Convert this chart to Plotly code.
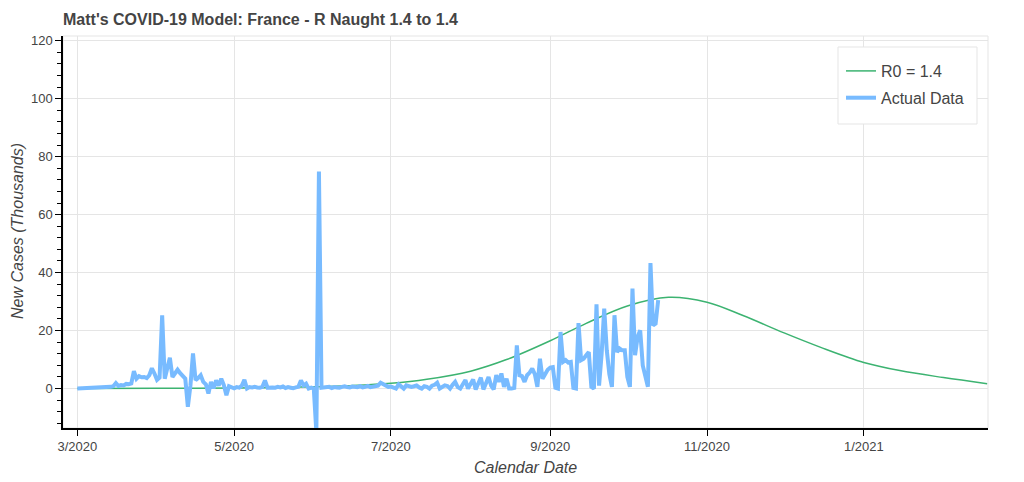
import pandas as pd
import plotly.graph_objects as go

# ---------------- data ----------------
actual_start = "2020-03-01"
actual_values = [
    0.0, 0.03, 0.05, 0.0, 0.1, 0.1, 0.3, 0.2, 0.1, 0.3,
    0.4, 0.2, 0.5, 0.6, 0.8, 1.9, 0.9, 1.2, 1.1, 1.6,
    1.5, 1.8, 6.0, 3.4, 4.3, 3.9, 4.0, 3.6, 4.6, 7.0,
    5.2, 3.0, 3.8, 25.3, 3.4, 7.5, 10.6, 4.0, 5.0, 6.5,
    5.3, 4.2, 3.4, -6.3, 1.0, 12.1, 2.9, 3.6, 4.6, 2.3,
    1.5, -1.7, 2.3, 0.1, 2.8, 1.0, 3.4, 1.2, -2.3, 0.8,
    0.4, 0.1, 0.5, 0.3, 1.0, 3.0, 0.0, 0.5, 0.4, 0.6,
    0.4, 0.3, 0.6, 2.8, 0.3, 0.5, 0.4, 0.3, 0.6, 0.4,
    0.7, 0.2, 0.5, 0.3, 0.1, 0.4, 0.6, 2.8, 1.1, 1.7,
    0.0, 0.3, 0.0, -15.0, 74.9, 0.3, 0.3, 0.4, 0.6, 0.2,
    0.5, 0.4, 0.3, 0.6, 0.8, 0.5, 0.4, 0.7, 0.6, 0.5,
    0.8, 0.4, 0.6, 0.9, 0.5, 0.7, 0.6, 1.0, 2.0, 1.5,
    0.8, 0.6, 0.7, 0.5, 0.0, 1.5, 0.6, 0.0, 1.1, 0.8,
    0.6, 0.8, 1.1, 0.4, 0.0, 0.8, 0.6, 0.0, 1.0, 1.3,
    2.0, 0.0, 0.5, 1.1, 0.9, 0.0, 1.3, 2.3, 0.5, 0.0,
    1.5, 2.9, 0.0, 1.5, 3.1, -0.3, 1.5, 3.8, -0.3, 2.0,
    4.0, 1.0, -0.3, 4.6, 2.3, 5.2, 0.6, 3.4, 0.0, 0.0,
    0.2, 14.9, 4.6, 4.3, 2.3, 4.6, 5.5, 6.9, 5.0, 0.6,
    10.3, 3.4, 4.9, 6.5, 7.2, 7.4, 0.3, 0.0, 19.5, 9.2,
    9.8, 9.0, 9.2, 0.2, 0.0, 22.6, 9.8, 10.3, 11.5, 12.6,
    0.6, 0.0, 29.1, 1.0, 12.0, 27.6, 13.2, 5.0, 0.6, 25.3,
    12.6, 13.8, 13.2, 13.2, 4.0, 0.6, 34.5, 11.5, 17.8, 20.1,
    8.0, 4.0, 0.6, 43.3, 21.8, 22.4, 30.5,
]
actual_dates = pd.date_range(actual_start, periods=len(actual_values), freq="D")

model_dates = [
    "2020-03-01", "2020-04-01", "2020-05-01", "2020-06-01", "2020-06-15",
    "2020-07-01", "2020-07-15", "2020-08-01", "2020-08-15", "2020-09-01",
    "2020-09-15", "2020-10-01", "2020-10-17", "2020-11-01", "2020-11-15",
    "2020-12-01", "2020-12-15", "2021-01-01", "2021-01-15", "2021-02-01",
    "2021-02-18",
]
model_values = [
    0.02, 0.07, 0.2, 0.6, 1.0,
    1.8, 3.2, 6.0, 10.0, 16.5,
    22.5, 28.5, 31.5, 29.8, 25.2,
    19.2, 14.3, 9.0, 6.2, 3.8,
    1.7,
]

x_tick_vals = ["2020-03-01", "2020-05-01", "2020-07-01", "2020-09-01",
               "2020-11-01", "2021-01-01"]
x_tick_text = ["3/2020", "5/2020", "7/2020", "9/2020", "11/2020", "1/2021"]
y_tick_vals = [0, 20, 40, 60, 80, 100, 120]

# ---------------- figure ----------------
TXT = "#444444"
GRID = "#e5e5e5"
FONT = "Liberation Sans, Arial, Helvetica, sans-serif"

L, R, T, B = 63, 36, 36, 54
W, H = 1024, 482
PW, PH = W - L - R, H - T - B


def px_x(px):
    return (px - L) / PW


def px_y(py):
    return 1 - (py - T) / PH


fig = go.Figure()
fig.add_trace(go.Scatter(
    x=model_dates, y=model_values, mode="lines", name="R0 = 1.4",
    legendgroup="a",
    line=dict(color="#3cb371", width=1.5, shape="spline", smoothing=1.0),
))
fig.add_trace(go.Scatter(
    x=actual_dates, y=actual_values, mode="lines", name="Actual Data",
    legendgroup="b",
    line=dict(color="#78bbff", width=4),
))

fig.update_layout(
    width=W, height=H,
    margin=dict(l=L, r=R, t=T, b=B, pad=0, autoexpand=False),
    paper_bgcolor="white", plot_bgcolor="white",
    font=dict(family=FONT, color=TXT, size=13),
    title=dict(
        text="<b>Matt's COVID-19 Model: France - R Naught 1.4 to 1.4</b>",
        x=L / W, xref="container", xanchor="left",
        y=1 - 19 / H, yref="container", yanchor="middle",
        font=dict(size=16, color=TXT, family=FONT),
        automargin=False,
    ),
    showlegend=True,
    legend=dict(
        x=px_x(841), xanchor="left", y=px_y(54), yanchor="top",
        bgcolor="rgba(0,0,0,0)", borderwidth=0,
        font=dict(size=16, color=TXT, family=FONT),
        itemwidth=30, traceorder="grouped", tracegroupgap=3,
    ),
    shapes=[
        dict(type="rect", xref="paper", yref="paper", x0=0, x1=1, y0=0, y1=1,
             line=dict(color=GRID, width=1), layer="below"),
        dict(type="rect", xref="paper", yref="paper",
             x0=px_x(838), x1=px_x(977), y0=px_y(124), y1=px_y(47),
             line=dict(color=GRID, width=1), fillcolor="white", layer="above"),
    ],
    annotations=[
        dict(text="<i>Calendar Date</i>", xref="paper", yref="paper",
             x=0.5, y=px_y(468), xanchor="center", yanchor="middle",
             showarrow=False, font=dict(size=16, color=TXT, family=FONT)),
        dict(text="<i>New Cases (Thousands)</i>", xref="paper", yref="paper",
             x=px_x(17), y=px_y(231), xanchor="center", yanchor="middle",
             textangle=-90, showarrow=False, font=dict(size=16, color=TXT, family=FONT)),
    ],
)

fig.update_xaxes(
    type="date", automargin=False,
    range=["2020-02-24 10:00", "2021-02-18 08:00"],
    tickmode="array", tickvals=x_tick_vals, ticktext=x_tick_text,
    ticks="outside", ticklen=6, tickcolor="black", tickwidth=1,
    showline=True, linecolor="black", linewidth=1.5,
    showgrid=True, gridcolor=GRID, gridwidth=1,
    zeroline=False,
    tickfont=dict(size=13, color=TXT),
)
fig.update_yaxes(
    automargin=False,
    range=[-13.6, 121.6],
    tickmode="array", tickvals=y_tick_vals,
    ticks="outside", ticklen=6, tickcolor="black", tickwidth=1,
    minor=dict(dtick=4, tick0=0, ticks="outside", ticklen=4, tickcolor="black", showgrid=False),
    showline=True, linecolor="black", linewidth=1.5,
    showgrid=True, gridcolor=GRID, gridwidth=1,
    zeroline=False,
    tickfont=dict(size=13, color=TXT),
)

fig.write_html("out.html")
